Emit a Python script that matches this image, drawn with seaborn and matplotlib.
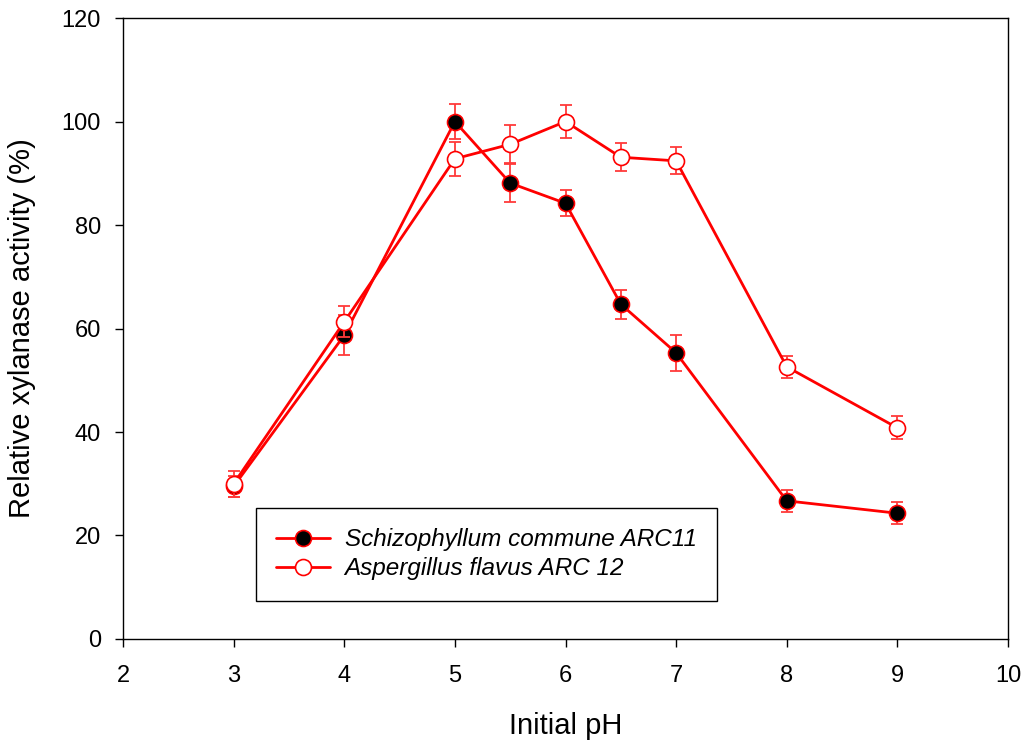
import matplotlib
matplotlib.use("Agg")
import matplotlib.pyplot as plt
import seaborn as sns
import pandas as pd
import numpy as np

ph = [3, 4, 5, 5.5, 6, 6.5, 7, 8, 9]
schizo = [29.5, 58.7, 100.0, 88.1, 84.2, 64.7, 55.3, 26.7, 24.3]
schizo_err = [2.0, 3.9, 3.3, 3.6, 2.5, 2.8, 3.5, 2.1, 2.1]
asper = [30.0, 61.3, 92.8, 95.6, 100.0, 93.1, 92.4, 52.6, 40.8]
asper_err = [2.5, 3.0, 3.3, 3.7, 3.2, 2.7, 2.6, 2.1, 2.2]
labels = ["Schizophyllum commune ARC11", "Aspergillus flavus ARC 12"]
xticks = [2, 3, 4, 5, 6, 7, 8, 9, 10]
yticks = [0, 20, 40, 60, 80, 100, 120]

sns.set_style("ticks")
plt.rcParams['font.family'] = ['Liberation Sans', 'DejaVu Sans']
plt.rcParams['text.color'] = 'black'
plt.rcParams['axes.labelcolor'] = 'black'
plt.rcParams['xtick.color'] = 'black'
plt.rcParams['ytick.color'] = 'black'

fig = plt.figure(figsize=(10.28, 7.45), dpi=100)
ax = fig.add_axes([0.1197, 0.1423, 0.8608, 0.8335])

df = pd.concat([
    pd.DataFrame({"pH": ph, "val": schizo, "err": schizo_err, "series": labels[0]}),
    pd.DataFrame({"pH": ph, "val": asper, "err": asper_err, "series": labels[1]}),
])

faces = {labels[0]: "black", labels[1]: "white"}
for i, lab in enumerate(labels):
    sub = df[df.series == lab]
    ax.errorbar(sub.pH, sub.val, yerr=sub.err, fmt="none", ecolor="#ff3a3a",
                elinewidth=1.3, capsize=4.5, capthick=1.3, zorder=2 + 2 * i)
    sns.lineplot(data=sub, x="pH", y="val", ax=ax, color="red", linewidth=2,
                 marker="o", markersize=11.5, markerfacecolor=faces[lab],
                 markeredgecolor="red", markeredgewidth=1.2, label=lab,
                 zorder=3 + 2 * i, errorbar=None)

ax.set_xlim(2, 10)
ax.set_ylim(0, 120)
ax.set_xticks(xticks)
ax.set_yticks(yticks)
ax.tick_params(axis="both", labelsize=17, length=6, width=1, direction="out",
               color="black", labelcolor="black")
ax.tick_params(axis="x", pad=13)
ax.tick_params(axis="y", pad=10)
for s in ax.spines.values():
    s.set_visible(True)
    s.set_color("black")
    s.set_linewidth(1)
ax.set_xlabel("Initial pH", fontsize=21, labelpad=18, color="black")
ax.set_ylabel("Relative xylanase activity (%)", fontsize=21, labelpad=18, color="black")

leg = ax.legend(loc="lower left", bbox_to_anchor=(0.150, 0.061),
                prop={"style": "italic", "size": 17.5}, frameon=True, fancybox=False,
                edgecolor="black", borderpad=0.85, handlelength=2.2,
                handletextpad=0.6, labelspacing=0.25, borderaxespad=0)
leg.get_frame().set_linewidth(1)
leg.get_frame().set_alpha(1)
for t in leg.get_texts():
    t.set_color("black")

fig.savefig("out.png", dpi=100)
